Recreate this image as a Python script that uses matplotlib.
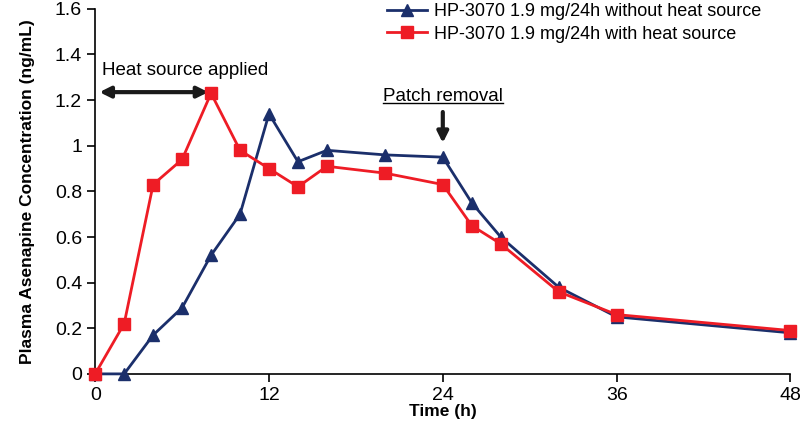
import matplotlib
matplotlib.use("Agg")
import matplotlib.pyplot as plt

# sampling times (h)
time_h = [0, 2, 4, 6, 8, 10, 12, 14, 16, 20, 24, 26, 28, 32, 36, 48]

# plasma concentrations (ng/mL)
no_heat = [0, 0, 0.17, 0.29, 0.52, 0.70, 1.14, 0.93, 0.98, 0.96, 0.95, 0.75, 0.60, 0.38, 0.25, 0.18]
with_heat = [0, 0.22, 0.83, 0.94, 1.23, 0.98, 0.90, 0.82, 0.91, 0.88, 0.83, 0.65, 0.57, 0.36, 0.26, 0.19]

labels = ["HP-3070 1.9 mg/24h without heat source",
          "HP-3070 1.9 mg/24h with heat source"]

plt.rcParams['font.family'] = ['Liberation Sans', 'DejaVu Sans']

fig = plt.figure(figsize=(8, 4.22), dpi=100)
ax = fig.add_axes([0.119, 0.114, 0.869, 0.865])

ax.plot(time_h, no_heat, color='#1b2f6b', marker='^', markersize=9,
        linewidth=2, label=labels[0], clip_on=False, zorder=3)
ax.plot(time_h, with_heat, color='#ee1c25', marker='s', markersize=9,
        linewidth=2, label=labels[1], clip_on=False, zorder=4)

ax.set_xlim(0, 48)
ax.set_ylim(0, 1.6)
ax.set_xticks([0, 12, 24, 36, 48])
ax.set_yticks([0, 0.2, 0.4, 0.6, 0.8, 1.0, 1.2, 1.4, 1.6])
ax.set_yticklabels(['0', '0.2', '0.4', '0.6', '0.8', '1', '1.2', '1.4', '1.6'])
ax.tick_params(labelsize=14, length=6, width=1.2)

for s in ['top', 'right']:
    ax.spines[s].set_visible(False)
for s in ['left', 'bottom']:
    ax.spines[s].set_linewidth(1.2)

ax.set_xlabel('Time (h)', fontsize=12.5, fontweight='bold', labelpad=0)
ax.set_ylabel('Plasma Asenapine Concentration (ng/mL)', fontsize=12.5,
              fontweight='bold', labelpad=14)

# heat source annotation
ax.annotate('', xy=(0.1, 1.235), xytext=(8.0, 1.235),
            arrowprops=dict(arrowstyle='<|-|>', color='#1a1a1a', lw=3,
                            mutation_scale=16))
ax.text(0.5, 1.33, 'Heat source applied', fontsize=13.5, va='center')

# patch removal annotation
ax.annotate('', xy=(24, 1.0), xytext=(24, 1.16),
            arrowprops=dict(arrowstyle='-|>', color='#1a1a1a', lw=3,
                            mutation_scale=16))
t = ax.text(24, 1.215, 'Patch removal', fontsize=13.5, ha='center', va='center')
fig.canvas.draw()
bb = t.get_window_extent().transformed(ax.transData.inverted())
ax.plot([bb.x0, bb.x1], [bb.y0 + 0.008, bb.y0 + 0.008], color='black', lw=1)

ax.legend(loc='upper left', bbox_to_anchor=(0.41, 1.035), frameon=False,
          fontsize=13, handlelength=2.2, handletextpad=0.4, labelspacing=0.3,
          borderaxespad=0)

fig.savefig('out.png', dpi=100)
